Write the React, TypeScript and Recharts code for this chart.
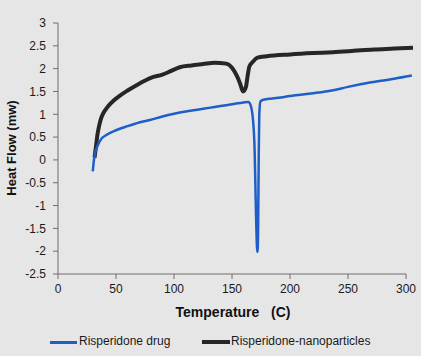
import React from 'react';
import {
    LineChart,
    Line,
    XAxis,
    YAxis,
    Legend,
    Label,
    ReferenceLine,
} from 'recharts';

// Temperature (C) / heat flow (mw) pairs
const drugTemp = [30, 31, 32, 34, 37, 42, 50, 60, 70, 80, 90, 100, 110, 120, 130, 140, 150, 160, 164, 166, 168, 169.5, 170.5, 171.5, 172, 172.5, 173, 173.5, 174.5, 177, 190, 200, 220, 236, 250, 270, 290, 305];
const drugFlow = [-0.25, 0.0, 0.15, 0.3, 0.45, 0.55, 0.65, 0.74, 0.82, 0.88, 0.95, 1.01, 1.06, 1.1, 1.14, 1.18, 1.22, 1.26, 1.27, 1.2, 0.9, 0.2, -1.0, -1.9, -2.02, -1.5, 0.0, 1.0, 1.28, 1.32, 1.36, 1.4, 1.46, 1.52, 1.6, 1.7, 1.78, 1.85];

const nanoTemp = [31.5, 32, 33, 34, 35.5, 37, 39, 43, 48, 54, 60, 70, 80, 90, 95, 100, 105, 115, 125, 135, 145, 150, 154, 157, 159.5, 162, 163.5, 165, 168, 172, 180, 200, 220, 237, 255, 272, 290, 306];
const nanoFlow = [0.05, 0.15, 0.35, 0.55, 0.75, 0.9, 1.02, 1.17, 1.3, 1.42, 1.52, 1.67, 1.8, 1.87, 1.92, 1.98, 2.03, 2.07, 2.1, 2.13, 2.11, 2.02, 1.85, 1.67, 1.5, 1.6, 1.85, 2.05, 2.15, 2.24, 2.27, 2.31, 2.34, 2.36, 2.39, 2.42, 2.44, 2.46];

const xTicks = [0, 50, 100, 150, 200, 250, 300];
const yTicks = [-2.5, -2, -1.5, -1, -0.5, 0, 0.5, 1, 1.5, 2, 2.5, 3];

const drugData = drugTemp.map((t, i) => ({ temp: t, flow: drugFlow[i] }));
const nanoData = nanoTemp.map((t, i) => ({ temp: t, flow: nanoFlow[i] }));

const FONT = '"Liberation Sans", Arial, sans-serif';
const BLUE = '#1f5ec6';
const DARK = '#262626';
const AXIS = '#6e6e6e';

const LegendBox = () => (
    <div style={{ position: 'relative', height: 20, fontFamily: FONT, fontSize: 12, color: '#1a1a1a' }}>
        <div style={{ position: 'absolute', left: 50, top: 8, width: 27, height: 3, background: BLUE }} />
        <span style={{ position: 'absolute', left: 79, top: 1 }}>Risperidone drug</span>
        <div style={{ position: 'absolute', left: 202, top: 7, width: 28, height: 4, background: DARK }} />
        <span style={{ position: 'absolute', left: 231, top: 1 }}>Risperidone-nanoparticles</span>
    </div>
);

export default function App() {
    return (
        <div style={{ position: 'absolute', left: 0, top: 0, width: 421, height: 356, background: '#e6e6e6' }}>
            <LineChart
                width={421}
                height={356}
                margin={{ top: 23, right: 8, left: 8, bottom: 22 }}
            >
                <XAxis
                    type="number"
                    dataKey="temp"
                    domain={[0, 306]}
                    ticks={xTicks}
                    axisLine={false}
                    tickSize={5}
                    tickMargin={5}
                    height={40}
                    tick={{ fontSize: 12, fill: '#1a1a1a', fontFamily: FONT }}
                    stroke={AXIS}
                >
                    <Label
                        content={() => (
                            <text x={233} y={317} textAnchor="middle" fontFamily={FONT} fontSize={14} fontWeight="bold" fill="#111" style={{ whiteSpace: 'pre' }}>
                                {'Temperature   (C)'}
                            </text>
                        )}
                    />
                </XAxis>
                <YAxis
                    type="number"
                    domain={[-2.5, 3]}
                    ticks={yTicks}
                    width={50}
                    tickSize={5}
                    tickMargin={7}
                    tick={{ fontSize: 12, fill: '#1a1a1a', fontFamily: FONT }}
                    stroke={AXIS}
                >
                    <Label
                        content={() => (
                            <text x={16} y={148} transform="rotate(-90 16 148)" textAnchor="middle" fontFamily={FONT} fontSize={13} fontWeight="bold" fill="#111">
                                Heat Flow (mw)
                            </text>
                        )}
                    />
                </YAxis>
                <ReferenceLine
                    segment={[{ x: 0, y: -2.5 }, { x: 300, y: -2.5 }]}
                    stroke={AXIS}
                    ifOverflow="visible"
                />
                <Line
                    data={nanoData}
                    dataKey="flow"
                    type="monotone"
                    stroke={DARK}
                    strokeWidth={4}
                    dot={false}
                    isAnimationActive={false}
                />
                <Line
                    data={drugData}
                    dataKey="flow"
                    type="monotone"
                    stroke={BLUE}
                    strokeWidth={2.5}
                    dot={false}
                    isAnimationActive={false}
                />
                <Legend
                    content={() => <LegendBox />}
                    wrapperStyle={{ position: 'absolute', left: 0, top: 333, width: 421 }}
                />
            </LineChart>
        </div>
    );
}
